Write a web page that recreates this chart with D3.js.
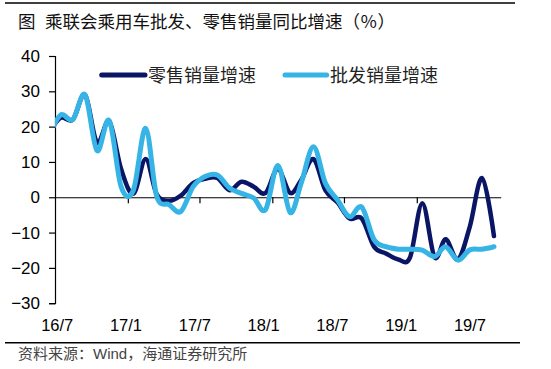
<!DOCTYPE html>
<html><head><meta charset="utf-8">
<script src="https://cdn.jsdelivr.net/npm/d3@7"></script>
<style>body{margin:0;background:#fff}svg{display:block}</style>
</head><body>
<svg id="c" width="551" height="369"></svg>
<script>
// ---- data ----
const months = ["16/6","16/7","16/8","16/9","16/10","16/11","16/12",
  "17/1","17/2","17/3","17/4","17/5","17/6","17/7","17/8","17/9","17/10","17/11","17/12",
  "18/1","18/2","18/3","18/4","18/5","18/6","18/7","18/8","18/9","18/10","18/11","18/12",
  "19/1","19/2","19/3","19/4","19/5","19/6","19/7"];
const retail = [18,22.5,22,29,15.5,21.5,8,
  1,10.8,0.8,-1,0.5,4,5.2,5.5,2,4.4,3,1.2,
  8,1.2,4.9,10.8,2,-1.5,-6,-6,-14,-15.9,-17.6,-17,
  -1.7,-17,-11.9,-17.6,-8.3,5.4,-11];
const wholesale = [17,23.3,22,29,13.2,21.7,3,
  2,19.5,0.3,-2.1,-4,3,5.9,6.3,2.6,1.1,-0.2,-3.5,
  9,-4.3,4,14.3,4,-0.8,-5.5,-2.8,-12,-14,-14.7,-14.7,
  -15,-16.8,-14,-17.8,-14.9,-14.7,-14];
const xLabels = ["16/7","17/1","17/7","18/1","18/7","19/1","19/7"];
const yTicks = [-30,-20,-10,0,10,20,30,40];
const seriesNames = ["零售销量增速","批发销量增速"];
const colors = ["#0b1565","#36b4e5"];

// ---- layout ----
const svg = d3.select("#c");
const parse = m => { const [y,mo]=m.split("/").map(Number); return new Date(2000+y, mo-1, 15); };
const x = d3.scaleTime().domain([new Date(2016,6,1), new Date(2019,7,1)]).range([55,500.7]);
const y = d3.scaleLinear().domain([-30,40]).range([303.2,56]);

// rules
svg.append("line").attr("x1",5).attr("x2",515).attr("y1",3).attr("y2",3).attr("stroke","#000").attr("stroke-width",1.5);
svg.append("line").attr("x1",5).attr("x2",520).attr("y1",342.7).attr("y2",342.7).attr("stroke","#000").attr("stroke-width",1.5);

// title
const title = svg.append("text").attr("y",27.5).attr("font-family","'Noto Sans CJK SC'").attr("font-size",17.5).attr("fill","#111");
title.append("tspan").attr("x",18).text("图");
title.append("tspan").attr("x",45).text("乘联会乘用车批发、零售销量同比增速（％）");

// source
const src = svg.append("text").attr("x",18).attr("y",358.5).attr("font-size",15).attr("fill","#444");
src.append("tspan").attr("font-family","'Noto Sans CJK SC'").text("资料来源：");
src.append("tspan").attr("font-family","'Liberation Sans',Arial").text("Wind");
src.append("tspan").attr("font-family","'Noto Sans CJK SC'").text("，海通证券研究所");

// y axis
const ya = svg.append("g").attr("transform","translate(55,0)")
  .call(d3.axisLeft(y).tickValues(yTicks).tickSize(6).tickPadding(9).tickSizeOuter(6));
ya.selectAll("text").attr("font-family","'Liberation Sans',Arial").attr("font-size",17).attr("fill","#000");
ya.selectAll("line,path").attr("stroke","#000").attr("stroke-width",1.2);

// x axis at zero
const tickDates = [new Date(2017,0,1),new Date(2017,6,1),new Date(2018,0,1),new Date(2018,6,1),new Date(2019,0,1)];
const xa = svg.append("g").attr("transform",`translate(0,${y(0)})`)
  .call(d3.axisBottom(x).tickValues(tickDates).tickSize(6).tickSizeOuter(0).tickFormat(""));
xa.selectAll("line,path").attr("stroke","#000").attr("stroke-width",1.2);

// x labels
const lx = d3.scalePoint().domain(xLabels).range([57.2,470]);
svg.append("g").selectAll("text").data(xLabels).join("text")
  .attr("x",d=>lx(d)).attr("y",331).attr("text-anchor","middle")
  .attr("font-family","'Liberation Sans',Arial").attr("font-size",16.5).attr("fill","#000").text(d=>d);

// clip
svg.append("clipPath").attr("id","pc").append("rect").attr("x",55).attr("y",40).attr("width",446).attr("height",280);

const line = d3.line().x(d=>x(d.date)).y(d=>y(d.v)).curve(d3.curveCardinal.tension(0));
const series = [retail, wholesale];
const widths = [4.5,5];
series.forEach((vals,k)=>{
  const pts = months.map((m,i)=>({date:parse(m), v:vals[i]}));
  svg.append("path").datum(pts).attr("clip-path","url(#pc)").attr("d",line)
    .attr("fill","none").attr("stroke",colors[k]).attr("stroke-width",widths[k])
    .attr("stroke-linejoin","round").attr("stroke-linecap","round");
});

// legend
const legX = [[101.7,145,148],[285,326.7,330]];
seriesNames.forEach((n,k)=>{
  svg.append("line").attr("x1",legX[k][0]).attr("x2",legX[k][1]).attr("y1",75).attr("y2",75)
    .attr("stroke",colors[k]).attr("stroke-width",5).attr("stroke-linecap","round");
  svg.append("text").attr("x",legX[k][2]).attr("y",81.5).attr("font-family","'Noto Sans CJK SC'")
    .attr("font-size",18).attr("fill","#222").text(n);
});
</script>
</body></html>
